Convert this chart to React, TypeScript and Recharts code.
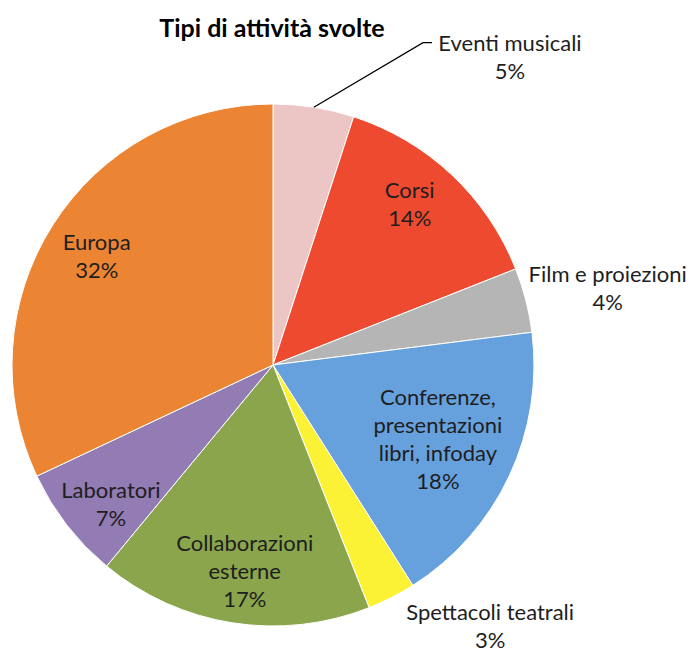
import { Cell, Pie, PieChart } from "recharts";

const categories = [
  "Eventi musicali",
  "Corsi",
  "Film e proiezioni",
  "Conferenze, presentazioni libri, infoday",
  "Spettacoli teatrali",
  "Collaborazioni esterne",
  "Laboratori",
  "Europa",
];
const shares = [5, 14, 4, 18, 3, 17, 7, 32];
const labelLines = [
  ["Eventi musicali"],
  ["Corsi"],
  ["Film e proiezioni"],
  ["Conferenze,", "presentazioni", "libri, infoday"],
  ["Spettacoli teatrali"],
  ["Collaborazioni", "esterne"],
  ["Laboratori"],
  ["Europa"],
];

const colors = [
  "#ECC5C5",
  "#EE4A30",
  "#B5B5B5",
  "#66A1DE",
  "#FCF235",
  "#8AA54B",
  "#937BB3",
  "#EC8533",
];

// where each label sits: fraction of the radius along the mid angle, then a nudge
const placement = [
  { r: 1.2, dx: 188, dy: 0 },
  { r: 0.81, dx: -8, dy: -8 },
  { r: 1.32, dx: 1, dy: 8 },
  { r: 0.69, dx: 2, dy: -4 },
  { r: 1.2, dx: 75, dy: -19 },
  { r: 0.79, dx: 4, dy: 1 },
  { r: 0.82, dx: 7, dy: 7 },
  { r: 0.8, dx: 0, dy: 2 },
];

const data = categories.map((name, i) => ({ name, value: shares[i] }));

const RADIAN = Math.PI / 180;
const LINE_H = 28;
const FONT = "Lato, 'Open Sans', sans-serif";

const renderLabel = (props: any) => {
  const { cx, cy, midAngle, outerRadius, index, value } = props;
  const p = placement[index];
  const cos = Math.cos(-midAngle * RADIAN);
  const sin = Math.sin(-midAngle * RADIAN);
  const x = cx + outerRadius * p.r * cos + p.dx;
  const y = cy + outerRadius * p.r * sin + p.dy;
  const lines = [...labelLines[index], `${value}%`];
  const top = y - ((lines.length - 1) * LINE_H) / 2;
  return (
    <g key={`lbl-${index}`}>
      {index === 0 && (
        <path
          d={`M${cx + outerRadius * cos},${cy + outerRadius * sin} L${x - 87},${y - 13} L${x - 78},${y - 13}`}
          stroke="#000"
          strokeWidth={1.3}
          fill="none"
        />
      )}
      <text
        x={x}
        y={top}
        textAnchor="middle"
        dominantBaseline="central"
        fill="#1e1e1e"
        fontFamily={FONT}
        fontSize={22}
      >
        {lines.map((l, i) => (
          <tspan key={i} x={x} dy={i === 0 ? 0 : LINE_H}>
            {l}
          </tspan>
        ))}
      </text>
    </g>
  );
};

export default function App() {
  return (
    <div style={{ position: "absolute", left: 0, top: 0, width: 696, height: 653, background: "#fff" }}>
      <div
        style={{
          position: "absolute",
          left: 0,
          top: 13,
          width: 544,
          textAlign: "center",
          fontFamily: FONT,
          fontWeight: 700,
          fontSize: 25,
          lineHeight: "28px",
          color: "#000",
          zIndex: 1,
        }}
      >
        Tipi di attività svolte
      </div>
      <PieChart width={696} height={653} margin={{ top: 0, right: 0, bottom: 0, left: 0 }}>
        <Pie
          data={data}
          dataKey="value"
          nameKey="name"
          cx={273}
          cy={365}
          outerRadius={261}
          startAngle={90}
          endAngle={-270}
          stroke="#fff"
          strokeWidth={1}
          label={renderLabel}
          labelLine={false}
          isAnimationActive={false}
        >
          {data.map((d, i) => (
            <Cell key={d.name} fill={colors[i]} />
          ))}
        </Pie>
      </PieChart>
    </div>
  );
}
